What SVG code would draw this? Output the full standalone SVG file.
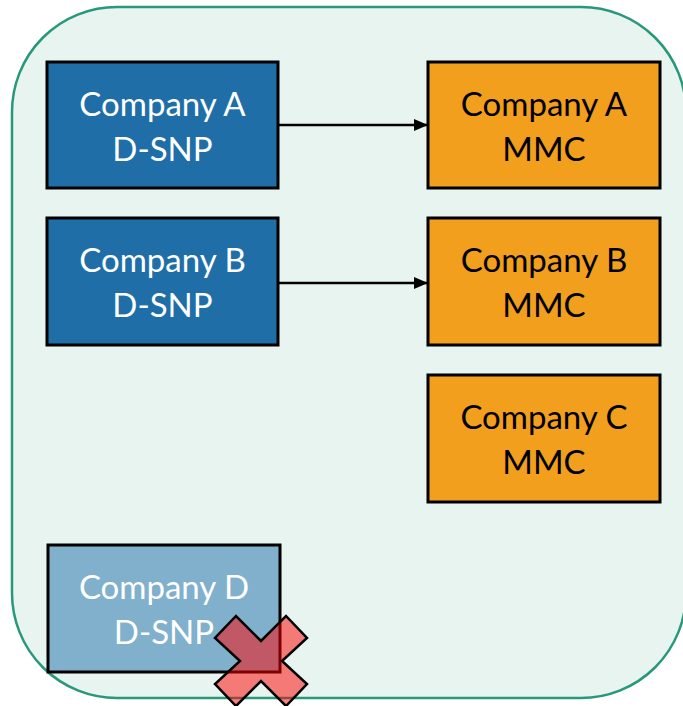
<svg xmlns="http://www.w3.org/2000/svg" width="683" height="706" viewBox="0 0 683 706">
<defs>
<style>
.box{stroke:#000;stroke-width:3}
.dsnp{fill:#1f6ea8}
.mmc{fill:#f19f1c}
.dead{fill:#80b0cc}
.t{font-family:Lato,"Open Sans",sans-serif;font-size:33px;text-anchor:middle}
.w{fill:#fff}
.k{fill:#000}
.conn{stroke:#000;stroke-width:2.5;fill:none}
</style>
<marker id="arr" viewBox="0 0 14 12" refX="14" refY="6" markerWidth="14" markerHeight="12" markerUnits="userSpaceOnUse" orient="auto">
<path d="M0,0 L14,6 L0,12 z" fill="#000"/>
</marker>
</defs>
<rect id="container" x="12" y="7" width="674" height="691" rx="105" ry="105" fill="#e8f4ef" stroke="#27997a" stroke-width="2.5"/>
<g id="nodeA-dsnp"><rect class="box dsnp" x="47" y="62" width="231" height="126"/><text class="t w" x="162.5" y="116">Company A</text><text class="t w" x="162.5" y="161">D-SNP</text></g>
<g id="nodeA-mmc"><rect class="box mmc" x="428" y="62" width="232" height="126"/><text class="t k" x="544" y="116">Company A</text><text class="t k" x="544" y="161">MMC</text></g>
<g id="nodeB-dsnp"><rect class="box dsnp" x="47" y="218" width="231" height="127"/><text class="t w" x="162.5" y="272">Company B</text><text class="t w" x="162.5" y="317">D-SNP</text></g>
<g id="nodeB-mmc"><rect class="box mmc" x="428" y="218" width="232" height="127"/><text class="t k" x="544" y="272">Company B</text><text class="t k" x="544" y="317">MMC</text></g>
<g id="nodeC-mmc"><rect class="box mmc" x="428" y="375" width="232" height="127"/><text class="t k" x="544" y="429">Company C</text><text class="t k" x="544" y="474">MMC</text></g>
<g id="nodeD-dsnp"><rect class="box dead" x="48" y="545" width="232" height="127"/><text class="t w" x="164" y="599">Company D</text><text class="t w" x="164" y="644">D-SNP</text></g>
<g id="connectors">
<line class="conn" x1="279" y1="125" x2="428" y2="125" marker-end="url(#arr)"/>
<line class="conn" x1="279" y1="283" x2="428" y2="283" marker-end="url(#arr)"/>
</g>
<g id="cross">
<path d="M261,641 L236,616 L215,638 L240,661 L215,684 L236,706 L261,681 L286,706 L307,684 L282,661 L307,638 L286,616 Z" fill="#ff0000" fill-opacity="0.5" stroke="#000" stroke-width="2.5" stroke-linejoin="miter"/>
</g>
</svg>
